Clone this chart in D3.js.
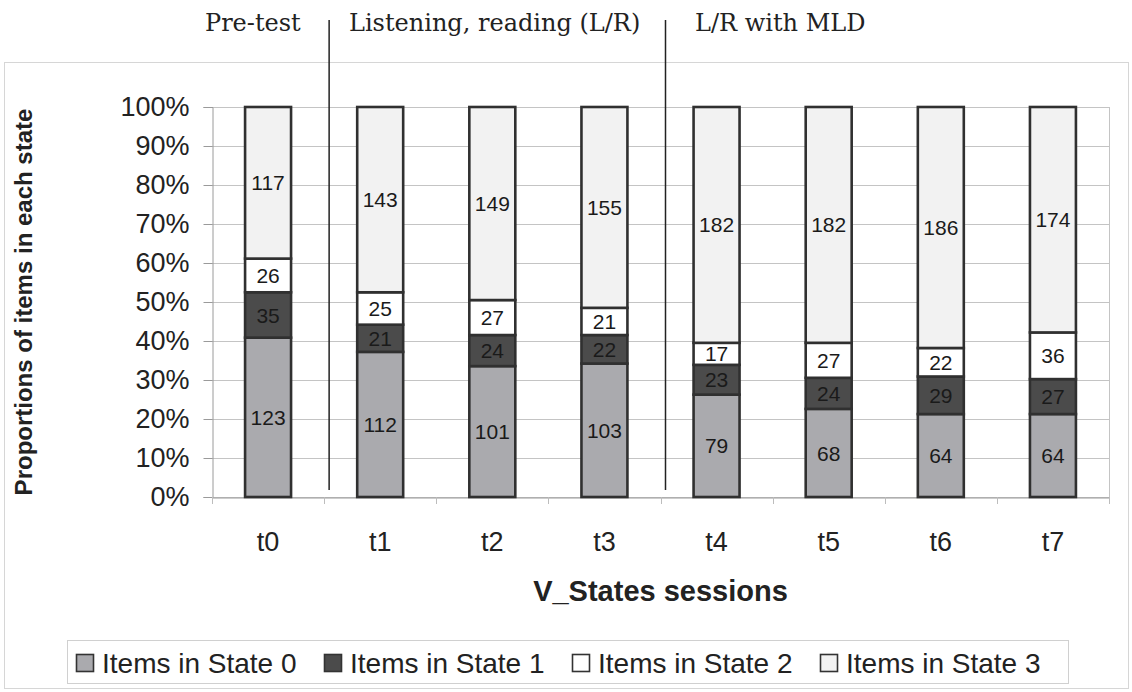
<!DOCTYPE html>
<html>
<head>
<meta charset="utf-8">
<script src="https://cdn.jsdelivr.net/npm/d3@7/dist/d3.min.js"></script>
<style>
  html, body { margin: 0; padding: 0; background: #fff; }
  svg { display: block; }
</style>
</head>
<body>
<svg id="chart" width="1132" height="692"></svg>
<script>
// Sessions and item counts per state (each session totals 301 items)
const sessions = ["t0", "t1", "t2", "t3", "t4", "t5", "t6", "t7"];
const state0 = [123, 112, 101, 103, 79, 68, 64, 64];
const state1 = [35, 21, 24, 22, 23, 24, 29, 27];
const state2 = [26, 25, 27, 21, 17, 27, 22, 36];
const state3 = [117, 143, 149, 155, 182, 182, 186, 174];
const seriesNames = ["Items in State 0", "Items in State 1", "Items in State 2", "Items in State 3"];
const yTicks = [0, 0.1, 0.2, 0.3, 0.4, 0.5, 0.6, 0.7, 0.8, 0.9, 1];
const phases = [
  { label: "Pre-test", from: 0, to: 1 },
  { label: "Listening, reading (L/R)", from: 1, to: 4 },
  { label: "L/R with MLD", from: 4, to: 8 }
];

const colors = ["#aaaaae", "#4b4b4b", "#ffffff", "#f2f2f2"];
const sans = "'Liberation Sans', Arial, sans-serif";

const svg = d3.select("#chart");
const W = 1132, H = 692;
const plot = { left: 212, right: 1109, top: 107, bottom: 497 };

// Chart area frame
svg.append("rect")
  .attr("x", 4.5).attr("y", 62.5).attr("width", 1124).attr("height", 626)
  .attr("fill", "#fff").attr("stroke", "#d6d6d6").attr("stroke-width", 1);

const x = d3.scaleBand().domain(sessions).range([plot.left, plot.right]).paddingInner(0.59).paddingOuter(0.295);
const xb = d3.scaleLinear().domain([0, sessions.length]).range([plot.left, plot.right]);
const y = d3.scaleLinear().domain([0, 1]).range([plot.bottom, plot.top]);

// Gridlines
svg.append("g").selectAll("line").data(yTicks).join("line")
  .attr("x1", plot.left).attr("x2", plot.right)
  .attr("y1", d => Math.round(y(d)) + 0.5).attr("y2", d => Math.round(y(d)) + 0.5)
  .attr("stroke", "#c4c4c4").attr("stroke-width", 1);

// Right border of plot
svg.append("line")
  .attr("x1", plot.right + 0.5).attr("x2", plot.right + 0.5)
  .attr("y1", plot.top).attr("y2", plot.bottom)
  .attr("stroke", "#c4c4c4");

// Y axis
const yAxis = svg.append("g")
  .attr("transform", `translate(${plot.left + 0.5},0)`)
  .call(d3.axisLeft(y).tickValues(yTicks).tickFormat(d3.format(".0%")).tickSize(9).tickPadding(14));
yAxis.select(".domain").attr("stroke", "#9a9a9a");
yAxis.selectAll(".tick line").attr("stroke", "#9a9a9a");
yAxis.selectAll("text").attr("font-family", sans).attr("font-size", 27).attr("fill", "#222");

// X axis
const xAxis = svg.append("g")
  .attr("transform", `translate(0,${plot.bottom + 0.5})`)
  .call(d3.axisBottom(x).tickSize(0).tickPadding(34));
xAxis.select(".domain").attr("stroke", "#9a9a9a");
xAxis.selectAll("text").attr("font-family", sans).attr("font-size", 27).attr("fill", "#222");
svg.append("g").selectAll("line").data(d3.range(sessions.length + 1)).join("line")
  .attr("x1", d => Math.round(xb(d)) + 0.5).attr("x2", d => Math.round(xb(d)) + 0.5)
  .attr("y1", plot.bottom).attr("y2", plot.bottom + 7)
  .attr("stroke", "#bdbdbd");

// Stacked proportions
const rows = sessions.map((s, i) => ({ session: s, s0: state0[i], s1: state1[i], s2: state2[i], s3: state3[i] }));
const keys = ["s0", "s1", "s2", "s3"];
const stack = d3.stack().keys(keys).offset(d3.stackOffsetExpand);
const layers = stack(rows);

const bars = svg.append("g");
layers.forEach((layer, k) => {
  const g = bars.append("g");
  g.selectAll("rect").data(layer).join("rect")
    .attr("x", d => x(d.data.session))
    .attr("y", d => y(d[1]))
    .attr("width", x.bandwidth())
    .attr("height", d => y(d[0]) - y(d[1]))
    .attr("fill", colors[k])
    .attr("stroke", "#303030")
    .attr("stroke-width", 2.6);
  g.selectAll("text").data(layer).join("text")
    .attr("x", d => x(d.data.session) + x.bandwidth() / 2)
    .attr("y", d => y((d[0] + d[1]) / 2))
    .attr("dy", "0.36em")
    .attr("text-anchor", "middle")
    .attr("font-family", sans)
    .attr("font-size", 21)
    .attr("fill", "#1a1a1a")
    .text(d => d.data[keys[k]]);
});

// Phase separators and labels
const sepX = [1, 4].map(b => xb(b) + 5);
svg.append("g").selectAll("line").data(sepX).join("line")
  .attr("x1", d => d).attr("x2", d => d)
  .attr("y1", 20).attr("y2", plot.bottom - 7)
  .attr("stroke", "#222").attr("stroke-width", 1.5);

const phaseLabelX = [205, 349, 695];
svg.append("g").selectAll("text").data(phases).join("text")
  .attr("x", (d, i) => phaseLabelX[i])
  .attr("y", 31)
  .attr("font-family", "'DejaVu Serif', 'Liberation Serif', serif")
  .attr("font-size", 24)
  .attr("fill", "#222")
  .text(d => d.label);

// Axis titles
svg.append("text")
  .attr("x", (plot.left + plot.right) / 2).attr("y", 601)
  .attr("text-anchor", "middle")
  .attr("font-family", sans).attr("font-size", 29).attr("font-weight", "bold")
  .attr("fill", "#222")
  .text("V_States sessions");

svg.append("text")
  .attr("transform", `translate(32,${(plot.top + plot.bottom) / 2}) rotate(-90)`)
  .attr("text-anchor", "middle")
  .attr("font-family", sans).attr("font-size", 24).attr("font-weight", "bold")
  .attr("fill", "#222")
  .text("Proportions of items in each state");

// Legend
const legend = svg.append("g");
legend.append("rect")
  .attr("x", 67.5).attr("y", 640.5).attr("width", 1001).attr("height", 43)
  .attr("fill", "#fff").attr("stroke", "#d0d0d0");
const entry = legend.selectAll("g").data(seriesNames).join("g")
  .attr("transform", (d, i) => `translate(${76 + i * 248},0)`);
entry.append("rect")
  .attr("x", 0.5).attr("y", 654.5).attr("width", 17).attr("height", 17)
  .attr("fill", (d, i) => colors[i])
  .attr("stroke", "#333").attr("stroke-width", 1.6);
entry.append("text")
  .attr("x", 26).attr("y", 673)
  .attr("font-family", sans).attr("font-size", 28)
  .attr("fill", "#222")
  .text(d => d);
</script>
</body>
</html>
